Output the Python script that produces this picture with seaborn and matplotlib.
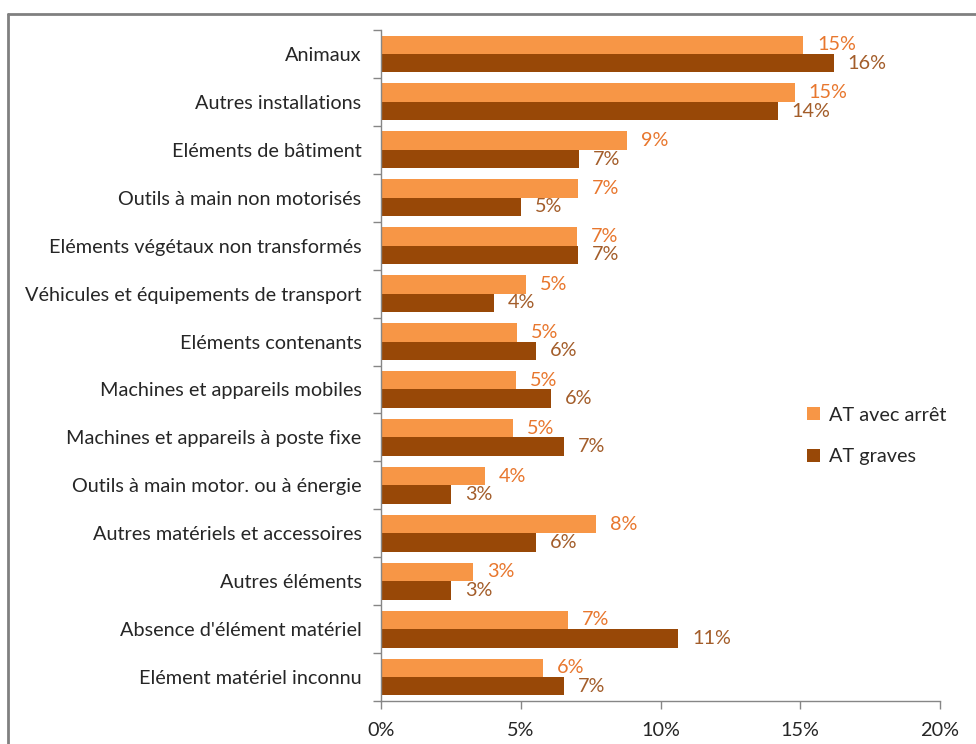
import matplotlib
matplotlib.use("Agg")
import matplotlib.pyplot as plt
from matplotlib.lines import Line2D
from matplotlib.patches import Patch
import seaborn as sns
import pandas as pd

categories = [
    "Animaux",
    "Autres installations",
    "Eléments de bâtiment",
    "Outils à main non motorisés",
    "Eléments végétaux non transformés",
    "Véhicules et équipements de transport",
    "Eléments contenants",
    "Machines et appareils mobiles",
    "Machines et appareils à poste fixe",
    "Outils à main motor. ou à énergie",
    "Autres matériels et accessoires",
    "Autres éléments",
    "Absence d'élément matériel",
    "Elément matériel inconnu",
]
series_names = ["AT avec arrêt", "AT graves"]
at_avec_arret = [15.1, 14.8, 8.8, 7.05, 7.0, 5.2, 4.86, 4.82, 4.71, 3.71, 7.7, 3.3, 6.7, 5.79]
at_graves = [16.2, 14.2, 7.07, 5.0, 7.05, 4.03, 5.56, 6.08, 6.56, 2.52, 5.56, 2.52, 10.63, 6.56]
xticks = [0, 5, 10, 15, 20]
xtick_labels = ["0%", "5%", "10%", "15%", "20%"]

bar_colors = ["#F79646", "#984807"]
label_colors = ["#E8772E", "#A35D2A"]
text_color = "#262626"
axis_color = "#868686"
fs = 14.3

df = pd.DataFrame({
    "categorie": categories * 2,
    "serie": [series_names[0]] * len(categories) + [series_names[1]] * len(categories),
    "valeur": at_avec_arret + at_graves,
})

sns.set_theme(style="white")
plt.rcParams["font.family"] = ["Lato", "DejaVu Sans"]

fig = plt.figure(figsize=(9.76, 7.44), dpi=100)
ax = fig.add_axes([381 / 976, 1 - 701 / 744, (940 - 381) / 976, (701 - 30) / 744])

sns.barplot(
    data=df, x="valeur", y="categorie", hue="serie", order=categories,
    hue_order=series_names, palette=bar_colors, orient="h", width=0.77,
    saturation=1, errorbar=None, ax=ax, legend=False, linewidth=0,
)

for cont, col in zip(ax.containers, label_colors):
    labels = [f"{v:.0f}%" for v in cont.datavalues]
    ax.bar_label(cont, labels=labels, padding=10, color=col, fontsize=fs)

ax.set_xlim(0, 20)
ax.set_ylim(len(categories) - 0.5, -0.5)
ax.set_xticks(xticks)
ax.set_xticklabels(xtick_labels)
ax.set_xlabel("")
ax.set_ylabel("")

ax.tick_params(axis="y", which="major", length=0, pad=14, labelsize=fs, labelcolor=text_color)
ax.set_yticks([i - 0.5 for i in range(len(categories) + 1)], minor=True)
ax.tick_params(axis="y", which="minor", left=True, length=6, width=1, color=axis_color, direction="out")
ax.tick_params(axis="x", which="major", bottom=True, length=6, width=1, color=axis_color,
               direction="out", pad=9, labelsize=fs, labelcolor=text_color)

for side in ["top", "right"]:
    ax.spines[side].set_visible(False)
for side in ["left", "bottom"]:
    ax.spines[side].set_color(axis_color)
    ax.spines[side].set_linewidth(1)

handles = [Patch(facecolor=c, edgecolor="none") for c in bar_colors]
fig.legend(handles, series_names, loc="center left", bbox_to_anchor=(789 / 976, 1 - 436 / 744),
           frameon=False, handlelength=0.65, handleheight=0.65, handletextpad=0.45,
           labelspacing=1.25, fontsize=fs, labelcolor=text_color)

# outer chart frame
fig.add_artist(Line2D([8 / 976, 8 / 976], [1 - 14 / 744, 0], transform=fig.transFigure,
                      color="#808080", linewidth=2))
fig.add_artist(Line2D([8 / 976, 1], [1 - 14 / 744, 1 - 14 / 744], transform=fig.transFigure,
                      color="#808080", linewidth=2))

fig.savefig("out.png", dpi=100, facecolor="white")
